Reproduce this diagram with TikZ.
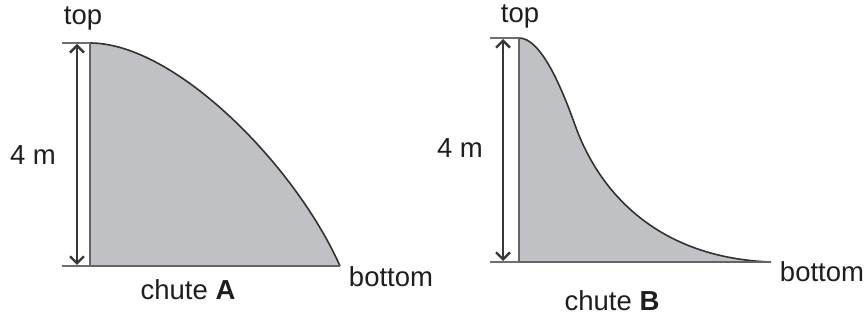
\documentclass[tikz,border=0pt]{standalone}
\usepackage{fontspec}
\setmainfont{Liberation Sans}
\usetikzlibrary{arrows.meta}
\definecolor{chutefill}{RGB}{192,193,196}
\definecolor{curvecol}{RGB}{50,50,50}
\definecolor{basecol}{RGB}{100,100,100}
\definecolor{dimcol}{RGB}{55,55,55}
\definecolor{tickcol}{RGB}{110,110,110}
\definecolor{txtcol}{RGB}{30,30,30}
\tikzset{
  lbl/.style={inner sep=0pt, text=txtcol, font=\fontsize{27.5}{32}\selectfont},
  curveline/.style={draw=curvecol, line width=1.6pt},
  baseline/.style={draw=basecol, line width=2.4pt},
  dimline/.style={draw=dimcol, line width=1.6pt, {Straight Barb[length=7pt,width=14pt,line width=2.4pt]}-{Straight Barb[length=7pt,width=14pt,line width=2.4pt]}},
  tickline/.style={draw=tickcol, line width=2pt}
}
\begin{document}
\begin{tikzpicture}[x=1pt,y=-1pt]
\useasboundingbox (0,0) rectangle (868,320);
% ---------- chute A ----------
\coordinate (Atop) at (90,43);
\coordinate (Abot) at (90,266);
\coordinate (Aend) at (340,266);
\fill[chutefill] (Atop) .. controls (175,43) and (295,165) .. (Aend) -- (Abot) -- cycle;
\draw[curveline] (Atop) .. controls (175,43) and (295,165) .. (Aend);
\draw[baseline] (Atop) -- (Abot) -- (Aend);
\coordinate (AtickT1) at (62,43);
\coordinate (AtickB1) at (62,266);
\draw[tickline] (AtickT1) -- (Atop);
\draw[tickline] (AtickB1) -- (Abot);
\coordinate (AdimT) at (77,44);
\coordinate (AdimB) at (77,265);
\draw[dimline] (AdimT) -- (AdimB);
\node[lbl] (Alabtop) at (83,18) {top};
\node[lbl] (Alabh) at (33,155) {4 m};
\node[lbl] (Alabname) at (188,290) {chute \textbf{A}};
\node[lbl] (Alabbot) at (391,277) {bottom};
% ---------- chute B ----------
\coordinate (Btop) at (519,38);
\coordinate (Bbot) at (519,262);
\coordinate (Bend) at (771,262);
\coordinate (Bmid) at (575,125);
\fill[chutefill] (Btop) .. controls (540,38) and (560,83) .. (Bmid) .. controls (600,195) and (660,258) .. (Bend) -- (Bbot) -- cycle;
\draw[curveline] (Btop) .. controls (540,38) and (560,83) .. (Bmid) .. controls (600,195) and (660,258) .. (Bend);
\draw[baseline] (Btop) -- (Bbot) -- (Bend);
\coordinate (BtickT1) at (490,38);
\coordinate (BtickB1) at (490,262);
\draw[tickline] (BtickT1) -- (Btop);
\draw[tickline] (BtickB1) -- (Bbot);
\coordinate (BdimT) at (503,39);
\coordinate (BdimB) at (503,261);
\draw[dimline] (BdimT) -- (BdimB);
\node[lbl] (Blabtop) at (520,16) {top};
\node[lbl] (Blabh) at (460,148) {4 m};
\node[lbl] (Blabname) at (612,301) {chute \textbf{B}};
\node[lbl] (Blabbot) at (822,272) {bottom};
\end{tikzpicture}
\end{document}
